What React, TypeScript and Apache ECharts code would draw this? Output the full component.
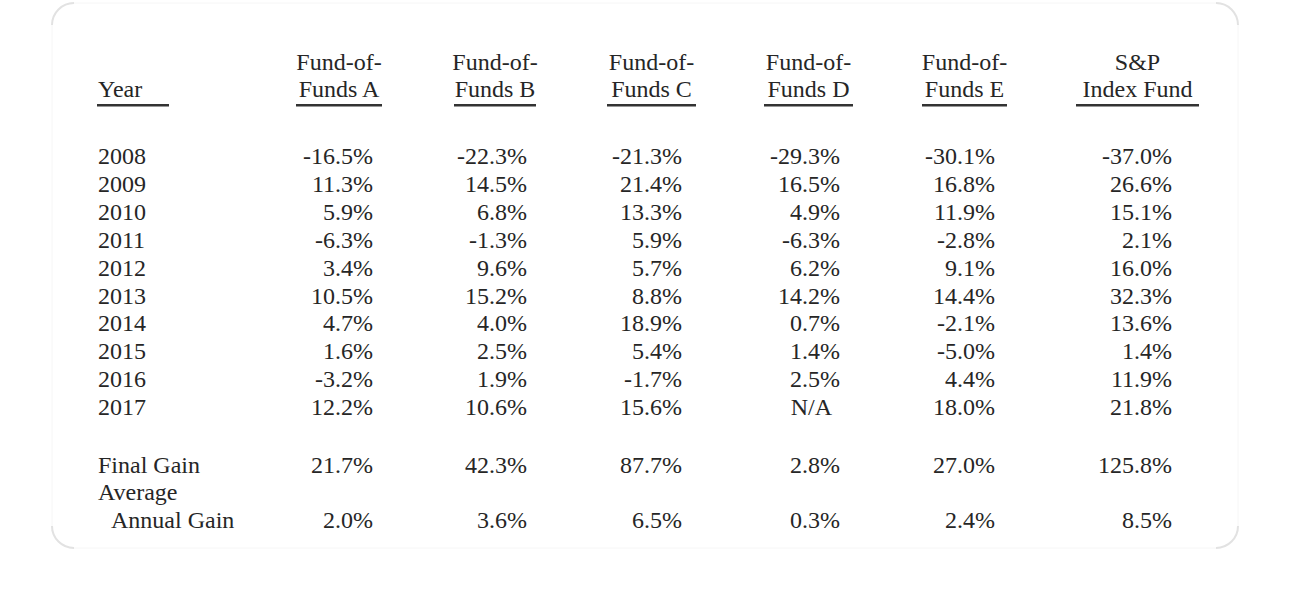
import React, { useEffect, useRef } from "react";
import * as echarts from "echarts";

const years = ["2008", "2009", "2010", "2011", "2012", "2013", "2014", "2015", "2016", "2017"];
const headers = [
  ["Fund-of-", "Funds A"],
  ["Fund-of-", "Funds B"],
  ["Fund-of-", "Funds C"],
  ["Fund-of-", "Funds D"],
  ["Fund-of-", "Funds E"],
  ["S&P", "Index Fund"],
];
const fundA = [-16.5, 11.3, 5.9, -6.3, 3.4, 10.5, 4.7, 1.6, -3.2, 12.2];
const fundB = [-22.3, 14.5, 6.8, -1.3, 9.6, 15.2, 4.0, 2.5, 1.9, 10.6];
const fundC = [-21.3, 21.4, 13.3, 5.9, 5.7, 8.8, 18.9, 5.4, -1.7, 15.6];
const fundD: (number | null)[] = [-29.3, 16.5, 4.9, -6.3, 6.2, 14.2, 0.7, 1.4, 2.5, null];
const fundE = [-30.1, 16.8, 11.9, -2.8, 9.1, 14.4, -2.1, -5.0, 4.4, 18.0];
const spIndex = [-37.0, 26.6, 15.1, 2.1, 16.0, 32.3, 13.6, 1.4, 11.9, 21.8];
const finalGain = [21.7, 42.3, 87.7, 2.8, 27.0, 125.8];
const avgAnnualGain = [2.0, 3.6, 6.5, 0.3, 2.4, 8.5];

const columns = [fundA, fundB, fundC, fundD, fundE, spIndex];

// layout
const FONT = "'Liberation Serif', 'Times New Roman', serif";
const FS = 24;
const COLOR = "#262626";
const colRight = [373, 527, 682, 840, 995, 1172];
const underlines: [number, number][] = [
  [296, 382],
  [454, 536],
  [607, 696],
  [764, 853],
  [922, 1007],
  [1076, 1199],
];
const yearX = 98;
const rowY0 = 156;
const rowStep = 27.9;

const fmt = (v: number | null) => (v === null ? "N/A" : v.toFixed(1) + "%");

function txt(text: string, x: number, y: number, align: string = "left") {
  return {
    type: "text",
    x,
    y,
    silent: true,
    style: {
      text,
      fill: COLOR,
      font: `${FS}px ${FONT}`,
      textAlign: align,
      textVerticalAlign: "middle",
    },
  };
}

export default function App() {
  const ref = useRef<HTMLDivElement>(null);
  useEffect(() => {
    document.body.style.margin = "0";
    const chart = echarts.init(ref.current!, null, { renderer: "svg" });
    const els: any[] = [];

    // card outline
    const cx0 = 52, cy0 = 3, cx1 = 1238, cy1 = 548, r = 22;
    els.push({
      type: "rect",
      shape: { x: cx0, y: cy0, width: cx1 - cx0, height: cy1 - cy0, r },
      style: { fill: "#ffffff", stroke: "#f6f6f6", lineWidth: 1 },
      silent: true,
    });
    const corners = [
      [cx0 + r, cy0 + r, Math.PI, Math.PI * 1.5],
      [cx1 - r, cy0 + r, Math.PI * 1.5, Math.PI * 2],
      [cx1 - r, cy1 - r, 0, Math.PI * 0.5],
      [cx0 + r, cy1 - r, Math.PI * 0.5, Math.PI],
    ];
    corners.forEach(([x, y, s, e]) =>
      els.push({
        type: "arc",
        shape: { cx: x, cy: y, r, startAngle: s, endAngle: e },
        style: { stroke: "#e2e2e2", lineWidth: 2, fill: "none" },
        silent: true,
      })
    );

    // header
    els.push(txt("Year", yearX, 89));
    els.push({
      type: "rect",
      shape: { x: 97, y: 104, width: 72, height: 2.6 },
      style: { fill: "#333" },
      silent: true,
    });
    headers.forEach((h, i) => {
      const [a, b] = underlines[i];
      const c = (a + b) / 2;
      els.push(txt(h[0], c, 62, "center"));
      els.push(txt(h[1], c, 89, "center"));
      els.push({
        type: "rect",
        shape: { x: a, y: 104, width: b - a, height: 2.6 },
        style: { fill: "#333" },
        silent: true,
      });
    });

    // rows
    years.forEach((yr, ri) => {
      const y = rowY0 + ri * rowStep;
      els.push(txt(yr, yearX, y));
      columns.forEach((col, ci) => {
        const v = col[ri];
        els.push(txt(fmt(v), colRight[ci] - (v === null ? 8 : 0), y, "right"));
      });
    });

    // summary
    els.push(txt("Final Gain", yearX, 465));
    els.push(txt("Average", yearX, 492));
    els.push(txt("Annual Gain", 111, 520));
    finalGain.forEach((v, ci) => els.push(txt(fmt(v), colRight[ci], 465, "right")));
    avgAnnualGain.forEach((v, ci) => els.push(txt(fmt(v), colRight[ci], 520, "right")));

    chart.setOption({
      animation: false,
      backgroundColor: "#ffffff",
      graphic: { elements: els },
    });
    return () => chart.dispose();
  }, []);
  return <div ref={ref} style={{ width: 1290, height: 595 }} />;
}
